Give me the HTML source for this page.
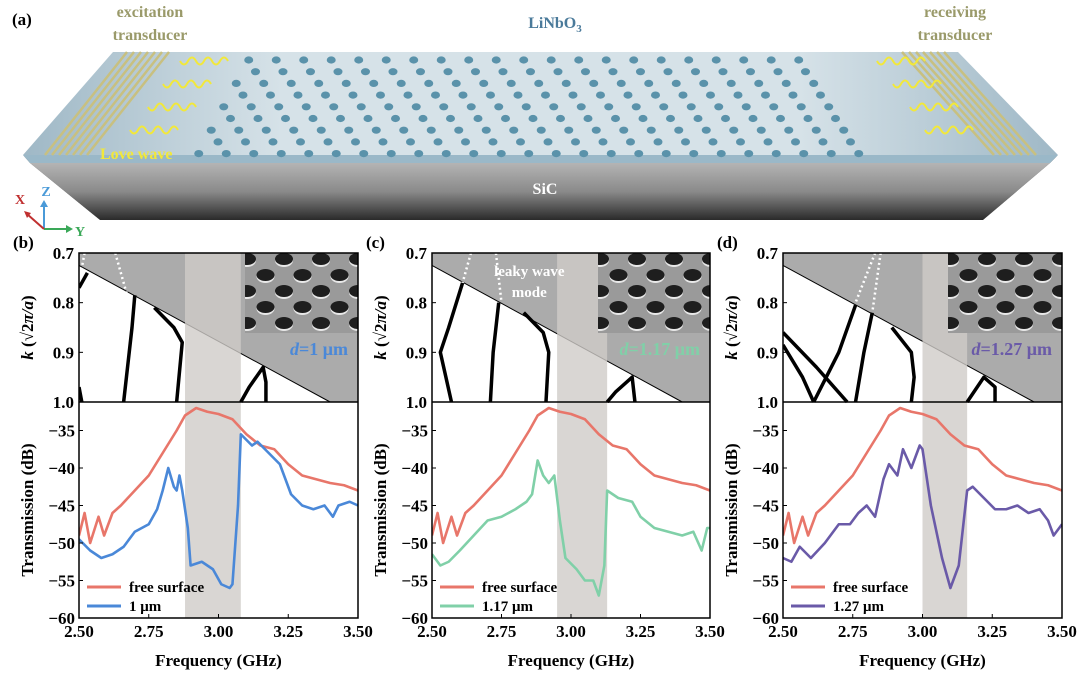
<!DOCTYPE html>
<html><head><meta charset="utf-8">
<style>
html,body{margin:0;padding:0;background:#fff;overflow:hidden;}
svg{display:block;font-family:"Liberation Serif",serif;font-weight:bold;}
</style></head>
<body>
<svg id="fig" width="1080" height="679" viewBox="0 0 1080 679" xmlns="http://www.w3.org/2000/svg">
<defs>
<linearGradient id="topG" x1="0" y1="0" x2="1" y2="0">
<stop offset="0" stop-color="#9fb8c6"/><stop offset="0.25" stop-color="#d6e2e8"/><stop offset="0.75" stop-color="#d6e2e8"/><stop offset="1" stop-color="#9fb8c6"/></linearGradient>
<linearGradient id="sicG" x1="0" y1="0" x2="0" y2="1">
<stop offset="0" stop-color="#b4b4b4"/><stop offset="0.5" stop-color="#8a8a8a"/><stop offset="1" stop-color="#2a2a2a"/></linearGradient>
<linearGradient id="sideG" x1="0" y1="0" x2="1" y2="1">
<stop offset="0" stop-color="#555"/><stop offset="1" stop-color="#111"/></linearGradient>
</defs>
<g id="schematic">
<polygon points="23,155 30,163 100,220" fill="url(#sideG)"/>
<polygon points="1058,155 1050,163 983,220" fill="url(#sideG)"/>
<polygon points="30,163 1050,163 983,220 100,220" fill="url(#sicG)"/>
<polygon points="23,155 1058,155 1050,163 30,163" fill="#9ab8c8"/>
<polygon points="113,52 958,52 1058,155 23,155" fill="url(#topG)"/>
<g id="holes"></g>
<g id="idts"></g>
<g id="waves"></g>
<text x="12" y="25" font-size="17">(a)</text>
<text x="150" y="17" font-size="16" fill="#9a9a6a" text-anchor="middle">excitation</text>
<text x="150" y="40" font-size="16" fill="#9a9a6a" text-anchor="middle">transducer</text>
<text x="555" y="28" font-size="16" fill="#4a7a9a" text-anchor="middle">LiNbO<tspan font-size="11" dy="4">3</tspan></text>
<text x="955" y="17" font-size="16" fill="#9a9a6a" text-anchor="middle">receiving</text>
<text x="955" y="40" font-size="16" fill="#9a9a6a" text-anchor="middle">transducer</text>
<text x="100" y="159" font-size="16" fill="#f2e83a">Love wave</text>
<text x="545" y="194" font-size="16" fill="#fff" text-anchor="middle">SiC</text>
<g>
<line x1="44" y1="229" x2="44" y2="205" stroke="#4a9ad8" stroke-width="2"/><polygon points="40,207 48,207 44,200" fill="#4a9ad8"/>
<line x1="44" y1="229" x2="68" y2="229" stroke="#3aa858" stroke-width="2"/><polygon points="66,225 66,233 73,229" fill="#3aa858"/>
<line x1="44" y1="229" x2="27" y2="214" stroke="#c03030" stroke-width="2"/><polygon points="24,211 31,213 27,218" fill="#c03030"/>
<text x="46" y="196" font-size="14" fill="#4a9ad8" text-anchor="middle">Z</text>
<text x="80" y="236" font-size="14" fill="#3aa858" text-anchor="middle">Y</text>
<text x="20" y="204" font-size="14" fill="#c03030" text-anchor="middle">X</text>
</g>
</g>
<g id="charts"></g>
</svg>
<script>
// ---- data ----
const freqFree = [2.50,2.52,2.54,2.57,2.59,2.62,2.65,2.70,2.75,2.80,2.85,2.88,2.92,2.96,3.00,3.05,3.10,3.15,3.20,3.25,3.30,3.35,3.40,3.45,3.50];
const dbFree = [-49,-46,-50,-46.5,-49,-46,-45,-43,-41,-38,-35,-33,-32,-32.5,-32.8,-33.5,-35.5,-37,-37.5,-39.5,-41,-41.5,-42,-42.3,-43];
const freqB = [2.50,2.54,2.58,2.62,2.66,2.70,2.75,2.78,2.80,2.82,2.84,2.85,2.86,2.87,2.89,2.90,2.94,2.98,3.01,3.04,3.05,3.07,3.08,3.12,3.14,3.18,3.22,3.26,3.30,3.34,3.38,3.41,3.43,3.47,3.50];
const dbB = [-49.5,-51,-52,-51.5,-50.5,-48.5,-47.5,-45.5,-43,-40,-42.5,-43,-41,-43,-48,-53,-52.5,-53.5,-55.5,-56,-55.5,-45,-35.5,-37,-36.5,-38,-39.5,-43.5,-45,-45.5,-45,-46.5,-45,-44.5,-45];
const freqC = [2.50,2.53,2.56,2.60,2.65,2.70,2.75,2.80,2.84,2.86,2.88,2.90,2.92,2.94,2.96,2.98,3.02,3.05,3.08,3.10,3.12,3.13,3.17,3.22,3.25,3.30,3.35,3.40,3.44,3.47,3.49,3.50];
const dbC = [-51.5,-53,-52.5,-51,-49,-47,-46.5,-45.5,-44.5,-43.5,-39,-41,-42,-41,-47,-52,-53.5,-55,-55,-57,-53,-43,-44,-44.5,-46.5,-48,-48.5,-49,-48.5,-51,-48,-48];
const freqD = [2.50,2.53,2.56,2.60,2.65,2.70,2.74,2.77,2.80,2.83,2.86,2.88,2.91,2.93,2.96,2.99,3.00,3.03,3.07,3.10,3.13,3.16,3.18,3.22,3.26,3.30,3.34,3.38,3.42,3.45,3.47,3.50];
const dbD = [-52,-52.5,-50.5,-52,-50,-47.5,-47.5,-46,-45,-46.5,-41.5,-39.5,-41,-37.5,-40,-37,-37.5,-45,-52,-56,-53,-43,-42.5,-44,-45.5,-45.5,-45,-46,-45.5,-47,-49,-47.5];
const xTicks = [2.50,2.75,3.00,3.25,3.50];
const xTickLabels = ["2.50","2.75","3.00","3.25","3.50"];
const kTicks = [0.7,0.8,0.9,1.0];
const kTickLabels = ["0.7","0.8","0.9","1.0"];
const dbTicks = [-35,-40,-45,-50,-55,-60];
const dbTickLabels = ["\u221235","\u221240","\u221245","\u221250","\u221255","\u221260"];
const bandB = [[[2.50,0.77],[2.53,0.74]],[[2.50,0.97],[2.51,1.0]],[[2.70,0.785],[2.69,0.85],[2.67,0.95],[2.66,1.0]],[[2.77,0.81],[2.84,0.85],[2.87,0.88],[2.86,0.94],[2.85,1.0]],[[3.08,1.0],[3.11,0.97],[3.16,0.93],[3.17,0.96],[3.17,1.0]]];
const leakyB = [[[2.52,0.70],[2.51,0.73]],[[2.63,0.70],[2.67,0.78]]];
const bandC = [[[2.61,0.76],[2.56,0.85],[2.53,0.90],[2.55,0.95],[2.57,1.0]],[[2.74,0.80],[2.72,0.9],[2.71,1.0]],[[2.83,0.82],[2.90,0.86],[2.92,0.90],[2.91,1.0]],[[3.13,1.0],[3.16,0.98],[3.22,0.95],[3.23,1.0]]];
const leakyC = [[[2.64,0.70],[2.61,0.76]],[[2.73,0.70],[2.75,0.80]]];
const bandD = [[[2.76,0.805],[2.70,0.90],[2.61,1.0]],[[2.82,0.82],[2.79,0.9],[2.76,1.0]],[[2.50,0.86],[2.62,0.93],[2.73,1.0]],[[2.50,0.885],[2.57,0.95],[2.61,1.0]],[[2.89,0.85],[2.96,0.90],[2.97,0.95],[2.96,1.0]],[[3.16,1.0],[3.22,0.95],[3.26,0.97],[3.26,1.0]]];
const leakyD = [[[2.83,0.70],[2.76,0.80]],[[2.85,0.70],[2.82,0.82]]];
const gapB = [2.88,3.08], gapC = [2.95,3.13], gapD = [3.00,3.16];

const NS="http://www.w3.org/2000/svg";
function mk(tag,attrs,parent){const e=document.createElementNS(NS,tag);for(const k in attrs)e.setAttribute(k,attrs[k]);parent.appendChild(e);return e;}

// schematic decorations
const holes=document.getElementById('holes');
for(let r=0;r<9;r++){
  const y=60+r*11.7; const t=(y-52)/103;
  const xl=113-90*t, xr=958+100*t;
  const start=xl+140+35*t+(r%2?13:0), end=xr-158-20*t;
  for(let x=start;x<end;x+=27.5){
    const h=mk('ellipse',{cx:x,cy:y,rx:4.5,ry:3.6,fill:'#5a92aa'},holes);
    
    
  }
}
const idts=document.getElementById('idts');
for(let i=0;i<7;i++){
  const o=14+i*7;
  const a=mk('line',{x1:113+o,y1:52,x2:23+o+8,y2:155,stroke:'#c8c080','stroke-width':2.5},idts);
  
  
  const b=mk('line',{x1:958-o,y1:52,x2:1058-o-8,y2:155,stroke:'#c8c080','stroke-width':2.5},idts);
  
  
}
const waves=document.getElementById('waves');
function wave(x,y){const d=`M${x},${y} q4,7 8,0 q4,-7 8,0 q4,7 8,0 q4,-7 8,0 q4,7 8,0 q4,-7 8,0`;const p=mk('path',{d:d,fill:'none',stroke:'#f2e83a','stroke-width':2},waves);}
[[180,61],[163,84],[148,107],[130,130],[877,61],[893,84],[910,107],[925,130]].forEach(w=>wave(w[0],w[1]));

// charts
const charts=document.getElementById('charts');
const YT=253,YM=402,YB=618;
const panels=[
 {id:'b',x0:79,x1:358,gap:gapB,bands:bandB,leaky:leakyB,fd:freqB,dd:dbB,col:'#4a88d8',lab:'1 \u03bcm',dlab:'1 \u03bcm',inset:[245,253,113,80],leakyText:false},
 {id:'c',x0:432,x1:710,gap:gapC,bands:bandC,leaky:leakyC,fd:freqC,dd:dbC,col:'#80d0a8',lab:'1.17 \u03bcm',dlab:'1.17 \u03bcm',inset:[598,253,112,80],leakyText:true},
 {id:'d',x0:783,x1:1062,gap:gapD,bands:bandD,leaky:leakyD,fd:freqD,dd:dbD,col:'#6a5aa8',lab:'1.27 \u03bcm',dlab:'1.27 \u03bcm',inset:[948,253,114,80],leakyText:false}
];
panels.forEach(P=>{
  const g=mk('g',{},charts);
  
  
  const X=f=>P.x0+(f-2.5)/(1.0)*(P.x1-P.x0);
  const K=k=>YT+(k-0.7)/0.3*(YM-YT);
  const D=d=>YB-(d+60)/5*37.5;
  const clipId='clip'+P.id;
  const cp=mk('clipPath',{id:clipId},g);mk('rect',{x:P.x0,y:YT,width:P.x1-P.x0,height:YB-YT},cp);
  const cg=mk('g',{'clip-path':`url(#${clipId})`},g);
  const tri=mk('polygon',{points:`${X(2.5)},${YT} ${P.x1},${YT} ${P.x1},${YM} ${X(3.40)},${YM} ${X(2.5)},${K(0.725)}`,fill:'#ababab'},cg);
  
  
  const sl=mk('line',{x1:X(2.5),y1:K(0.725),x2:X(3.40),y2:YM,stroke:'#000','stroke-width':1},cg);
  
  
  const bg=mk('rect',{x:X(P.gap[0]),y:YT,width:X(P.gap[1])-X(P.gap[0]),height:YB-YT,fill:'#cfccc8',opacity:0.8},cg);
  
  
  P.bands.forEach(b=>{const p=mk('polyline',{points:b.map(q=>X(q[0])+','+K(q[1])).join(' '),fill:'none',stroke:'#000','stroke-width':3.5,'stroke-linejoin':'round'},cg);});
  P.leaky.forEach(b=>{const p=mk('polyline',{points:b.map(q=>X(q[0])+','+K(q[1])).join(' '),fill:'none',stroke:'#fff','stroke-width':2.5,'stroke-dasharray':'2 3'},cg);});
  // inset
  const [ix,iy,iw,ih]=P.inset;
  const ic='ic'+P.id;const icp=mk('clipPath',{id:ic},g);mk('rect',{x:ix,y:iy,width:iw,height:ih},icp);
  const ig=mk('g',{'clip-path':`url(#${ic})`},g);
  
  
  mk('rect',{x:ix,y:iy,width:iw,height:ih,fill:'#9a9a9a'},ig);
  for(let r=0;r<6;r++)for(let c=0;c<5;c++){const cx=ix+2+c*37+(r%2?18.5:0),cy=iy+6+r*16;mk('ellipse',{cx:cx,cy:cy+1.5,rx:9,ry:6.5,fill:'#e8e8e8'},ig);mk('ellipse',{cx:cx,cy:cy,rx:9,ry:6,fill:'#1e1e1e'},ig);}
  // transmission
  const fs=mk('polyline',{points:freqFree.map((f,i)=>X(f)+','+D(dbFree[i])).join(' '),fill:'none',stroke:'#e8766a','stroke-width':2.6,'stroke-linejoin':'round'},cg);
  
  
  const pc=mk('polyline',{points:P.fd.map((f,i)=>X(f)+','+D(P.dd[i])).join(' '),fill:'none',stroke:P.col,'stroke-width':2.6,'stroke-linejoin':'round'},cg);
  
  
  const fr=mk('rect',{x:P.x0,y:YT,width:P.x1-P.x0,height:YB-YT,fill:'none',stroke:'#000','stroke-width':1.5},g);
  
  
  mk('line',{x1:P.x0,y1:YM,x2:P.x1,y2:YM,stroke:'#000','stroke-width':1.5},g);
  xTicks.forEach((t,i)=>{mk('line',{x1:X(t),y1:YB,x2:X(t),y2:YB-4,stroke:'#000'},g);const tx=mk('text',{x:X(t),y:YB+19,'font-size':17,'text-anchor':'middle'},g);tx.textContent=xTickLabels[i];});
  kTicks.forEach((t,i)=>{mk('line',{x1:P.x0,y1:K(t),x2:P.x0+4,y2:K(t),stroke:'#000'},g);const tx=mk('text',{x:P.x0-5,y:K(t)+6,'font-size':17,'text-anchor':'end'},g);tx.textContent=kTickLabels[i];});
  dbTicks.forEach((t,i)=>{mk('line',{x1:P.x0,y1:D(t),x2:P.x0+4,y2:D(t),stroke:'#000'},g);const tx=mk('text',{x:P.x0-4,y:D(t)+6,'font-size':17,'text-anchor':'end'},g);tx.textContent=dbTickLabels[i];});
  const xt=mk('text',{x:(P.x0+P.x1)/2,y:666,'font-size':17,'text-anchor':'middle'},g);xt.textContent='Frequency (GHz)';
  
  
  const yt1=mk('text',{transform:`translate(${P.x0-46},${(YT+YM)/2}) rotate(-90)`,'font-size':17,'text-anchor':'middle'},g);
  yt1.innerHTML='<tspan font-style="italic">k</tspan> (\u221a2<tspan font-style="italic">\u03c0/a</tspan>)';
  
  
  const yt2=mk('text',{transform:`translate(${P.x0-46},${(YM+YB)/2}) rotate(-90)`,'font-size':17,'text-anchor':'middle'},g);yt2.textContent='Transmission (dB)';
  
  
  const pl=mk('text',{x:P.x0-66,y:248,'font-size':17},g);pl.textContent='('+P.id+')';
  
  
  const dl=mk('text',{x:P.x1-10,y:355,'font-size':18,'text-anchor':'end',fill:P.col},g);
  dl.innerHTML='<tspan font-style="italic">d</tspan>='+P.dlab;
  
  
  if(P.leakyText){const a=mk('text',{x:X(2.85),y:276,'font-size':15,'text-anchor':'middle',fill:'#fff'},g);a.textContent='leaky wave';const b=mk('text',{x:X(2.85),y:297,'font-size':15,'text-anchor':'middle',fill:'#fff'},g);b.textContent='mode';}
  const lg=mk('g',{},g);
  
  
  mk('line',{x1:P.x0+8,y1:587,x2:P.x0+42,y2:587,stroke:'#e8766a','stroke-width':3},lg);
  const l1=mk('text',{x:P.x0+50,y:592,'font-size':15},lg);l1.textContent='free surface';
  
  
  mk('line',{x1:P.x0+8,y1:606,x2:P.x0+42,y2:606,stroke:P.col,'stroke-width':3},lg);
  const l2=mk('text',{x:P.x0+50,y:611,'font-size':15},lg);l2.textContent=P.lab;
  
  
});
</script>
</body></html>
